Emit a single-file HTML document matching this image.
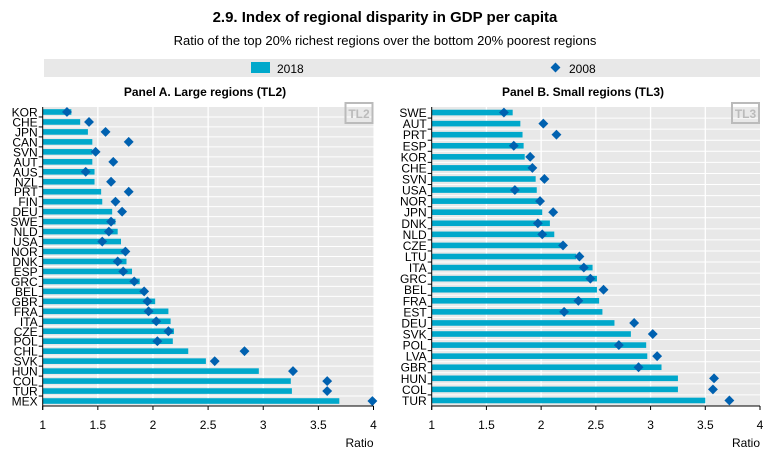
<!DOCTYPE html>
<html><head><meta charset="utf-8"><style>
body{margin:0;background:#fff;font-family:"Liberation Sans",Arial,sans-serif;}
svg text{font-family:"Liberation Sans",Arial,sans-serif;}
</style></head><body>
<svg id="c" width="771" height="453" viewBox="0 0 771 453" xmlns="http://www.w3.org/2000/svg">
<text x="385" y="22" text-anchor="middle" font-size="15" font-weight="bold" fill="#000">2.9. Index of regional disparity in GDP per capita</text>
<text x="385" y="45" text-anchor="middle" font-size="13" fill="#000">Ratio of the top 20% richest regions over the bottom 20% poorest regions</text>
<rect x="44" y="59" width="716" height="18" fill="#e8e8e8"/>
<rect x="251" y="62" width="19" height="11" fill="#00a8cb"/>
<text x="277" y="73" font-size="12">2018</text>
<rect x="552" y="64" width="7" height="7" fill="#0061b0" transform="rotate(45 555.5 67.5)"/>
<text x="569" y="73" font-size="12">2008</text>
<g id="pA"></g>
<g id="pB"></g>
</svg>
<script>
const catsA=["KOR","CHE","JPN","CAN","SVN","AUT","AUS","NZL","PRT","FIN","DEU","SWE","NLD","USA","NOR","DNK","ESP","GRC","BEL","GBR","FRA","ITA","CZE","POL","CHL","SVK","HUN","COL","TUR","MEX"];
const valsA2018=[1.26,1.34,1.41,1.45,1.45,1.45,1.47,1.47,1.53,1.54,1.63,1.66,1.68,1.71,1.75,1.76,1.81,1.88,1.93,2.02,2.14,2.16,2.19,2.18,2.32,2.48,2.96,3.25,3.26,3.69];
const valsA2008=[1.22,1.42,1.57,1.78,1.48,1.64,1.39,1.62,1.78,1.66,1.72,1.62,1.60,1.54,1.75,1.68,1.73,1.83,1.92,1.95,1.96,2.03,2.14,2.04,2.83,2.56,3.27,3.58,3.58,3.99];
const catsB=["SWE","AUT","PRT","ESP","KOR","CHE","SVN","USA","NOR","JPN","DNK","NLD","CZE","LTU","ITA","GRC","BEL","FRA","EST","DEU","SVK","POL","LVA","GBR","HUN","COL","TUR"];
const valsB2018=[1.74,1.81,1.83,1.84,1.85,1.90,1.95,1.96,1.99,2.01,2.08,2.12,2.18,2.32,2.47,2.51,2.51,2.53,2.56,2.67,2.82,2.96,2.97,3.10,3.25,3.25,3.50];
const valsB2008=[1.66,2.02,2.14,1.75,1.90,1.92,2.03,1.76,1.99,2.11,1.97,2.01,2.20,2.35,2.39,2.45,2.57,2.34,2.21,2.85,3.02,2.71,3.06,2.89,3.58,3.57,3.72];
const ticks=[1,1.5,2,2.5,3,3.5,4];
const tickLabels=["1","1.5","2","2.5","3","3.5","4"];
const NS="http://www.w3.org/2000/svg";
function el(p,t,a){const e=document.createElementNS(NS,t);for(const k in a)e.setAttribute(k,a[k]);p.appendChild(e);return e;}
function panel(g,x0,x1,y0,y1,cats,v18,v08,title,tcx,tag,key){
  const sx=v=>x0+(v-1)/3*(x1-x0);
  const n=cats.length,h=(y1-y0)/n;
  const sy=i=>y0+h*(i+0.5);
  let e=el(g,"rect",{x:x0,y:y0,width:x1-x0,height:y1-y0,fill:"#e8e8e8"});
  
  
  e=el(g,"text",{x:tcx,y:96,"text-anchor":"middle","font-size":"12","font-weight":"bold"});e.textContent=title;
  
  
  for(let i=1;i<n;i++){const l=el(g,"line",{x1:x0,x2:x1,y1:y0+h*i,y2:y0+h*i,stroke:"#fff","stroke-width":1});
    
    
    const t=el(g,"line",{x1:x0-4,x2:x0,y1:y0+h*i,y2:y0+h*i,stroke:"#000","stroke-width":1});
    
    }
  ticks.forEach((v,i)=>{
    if(i>0&&i<ticks.length-1){const l=el(g,"line",{x1:sx(v),x2:sx(v),y1:y0,y2:y1,stroke:"#fff","stroke-width":1.3});
      
      }
    const t=el(g,"line",{x1:sx(v),x2:sx(v),y1:y1,y2:y1+4,stroke:"#000"});
    
    
    const tx=el(g,"text",{x:sx(v),y:y1+23,"text-anchor":"middle","font-size":"12"});tx.textContent=tickLabels[i];
    
    
  });
  e=el(g,"rect",{x:x1-28,y:y0-4,width:27,height:20,fill:"none",stroke:"#bbb","stroke-width":2});
  
  
  e=el(g,"text",{x:x1-14.5,y:y0+11,"text-anchor":"middle","font-size":"12","font-weight":"bold",fill:"#bbb"});e.textContent=tag;
  
  
  cats.forEach((c,i)=>{
    const y=sy(i);
    const lb=el(g,"text",{x:x0-5,y:y+4.5,"text-anchor":"end","font-size":"12"});lb.textContent=c;
    
    
    const b=el(g,"rect",{x:x0,y:y-2.8,width:sx(v18[i])-x0,height:5.6,fill:"#00a8cb"});
    
    
    const cx=sx(v08[i]);
    const d=el(g,"rect",{x:cx-3.5,y:y-3.5,width:7,height:7,fill:"#0061b0",transform:`rotate(45 ${cx} ${y})`});
    
    
  });
  e=el(g,"line",{x1:x0,x2:x0,y1:y0,y2:y1+4,stroke:"#000"});
  
  
  e=el(g,"line",{x1:x0,x2:x1,y1:y1,y2:y1,stroke:"#000"});
  
  
  e=el(g,"text",{x:x1-14,y:y1+41,"text-anchor":"middle","font-size":"12"});e.textContent="Ratio";
  
  
}
panel(document.getElementById("pA"),42.7,373.5,107,406,catsA,valsA2018,valsA2008,"Panel A. Large regions (TL2)",205,"TL2","tl2");
panel(document.getElementById("pB"),431.7,760,107,406,catsB,valsB2018,valsB2008,"Panel B. Small regions (TL3)",583,"TL3","tl3");
</script>
</body></html>
